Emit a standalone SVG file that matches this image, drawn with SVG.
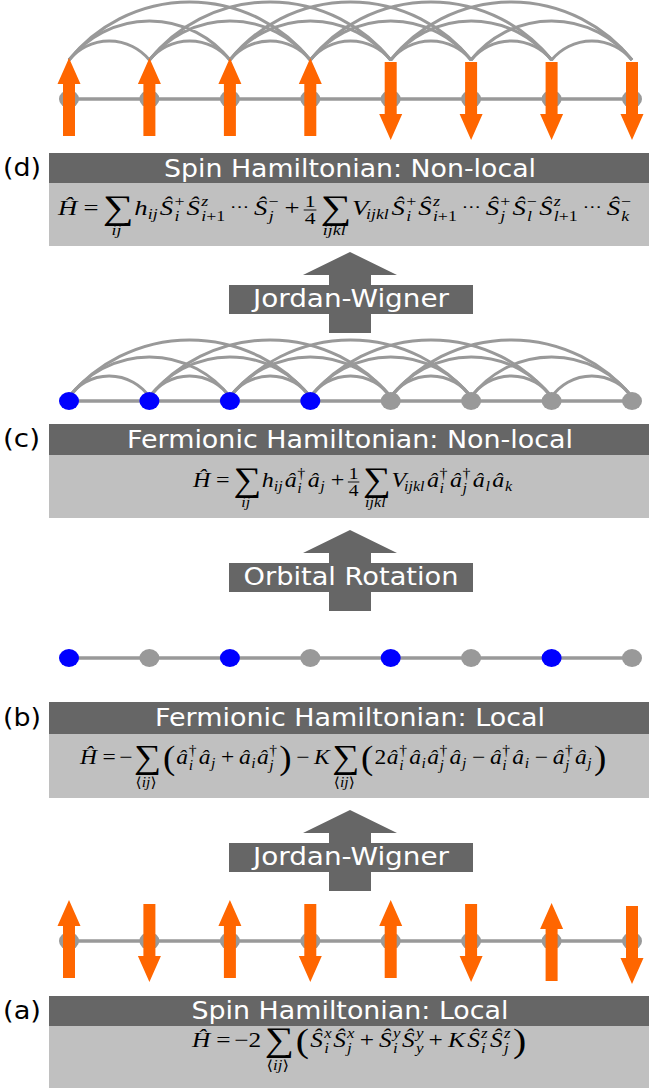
<svg xmlns="http://www.w3.org/2000/svg" xmlns:xlink="http://www.w3.org/1999/xlink" width="649" height="1089" viewBox="0 0 649 1089">
<style>
.bar{fill:#666}
.box{fill:#c0c0c0}
.title{font-family:"DejaVu Sans",sans-serif;font-size:24px;fill:#fff;text-anchor:middle}
.lab{font-family:"DejaVu Sans",sans-serif;font-size:24px;fill:#000}
.edge{stroke:#999;stroke-width:3.5;fill:none}
.arc{stroke:#999;stroke-width:3;fill:none}
.g{fill:#999}
.b{fill:#0000ff}
.spin{fill:#ff6600}
.big{fill:#666}
.m{font-family:"Liberation Serif","DejaVu Serif",serif;font-size:21px;fill:#000}
.i{font-style:italic}
.s{font-size:14px}
.L{font-size:34px}
.P{font-size:33px}
.f{font-size:17px}
.c{text-anchor:middle}
.dots{font-family:"DejaVu Sans",sans-serif;font-size:15px;fill:#000}
.fr{stroke:#000;stroke-width:0.9}
</style>
<defs>
<path id="up" d="M0,-41 L11.5,-15 L6,-15 L6,37 L-6,37 L-6,-15 L-11.5,-15 Z"/>
<path id="dn" d="M0,41 L11.5,15 L6,15 L6,-37 L-6,-37 L-6,15 L-11.5,15 Z"/>
<ellipse id="dot" cx="0" cy="0" rx="10" ry="9"/>
</defs>

<!-- connectors -->
<g id="connectors">
 <line class="edge" x1="69" y1="99" x2="632" y2="99"/>
 <g id="d-arcs">
  <path class="arc" d="M69,60 A52,52 0 0 1 149.4,60 M149.4,60 A52,52 0 0 1 229.9,60 M229.9,60 A52,52 0 0 1 310.3,60 M310.3,60 A52,52 0 0 1 390.7,60 M390.7,60 A52,52 0 0 1 471.1,60 M471.1,60 A52,52 0 0 1 551.6,60 M551.6,60 A52,52 0 0 1 632,60"/>
  <path class="arc" d="M69,60 A102.4,102.4 0 0 1 229.9,60 M149.4,60 A102.4,102.4 0 0 1 310.3,60 M229.9,60 A102.4,102.4 0 0 1 390.7,60 M310.3,60 A102.4,102.4 0 0 1 471.1,60 M390.7,60 A102.4,102.4 0 0 1 551.6,60 M471.1,60 A102.4,102.4 0 0 1 632,60"/>
  <path class="arc" d="M69,60 A154.4,154.4 0 0 1 310.3,60 M149.4,60 A154.4,154.4 0 0 1 390.7,60 M229.9,60 A154.4,154.4 0 0 1 471.1,60 M310.3,60 A154.4,154.4 0 0 1 551.6,60 M390.7,60 A154.4,154.4 0 0 1 632,60"/>
 </g>
 <line class="edge" x1="69" y1="401" x2="632" y2="401"/>
 <g id="c-arcs">
  <path class="arc" d="M69,397 A49,49 0 0 1 149.4,397 M149.4,397 A49,49 0 0 1 229.9,397 M229.9,397 A49,49 0 0 1 310.3,397 M310.3,397 A49,49 0 0 1 390.7,397 M390.7,397 A49,49 0 0 1 471.1,397 M471.1,397 A49,49 0 0 1 551.6,397 M551.6,397 A49,49 0 0 1 632,397"/>
  <path class="arc" d="M69,397 A100.8,100.8 0 0 1 229.9,397 M149.4,397 A100.8,100.8 0 0 1 310.3,397 M229.9,397 A100.8,100.8 0 0 1 390.7,397 M310.3,397 A100.8,100.8 0 0 1 471.1,397 M390.7,397 A100.8,100.8 0 0 1 551.6,397 M471.1,397 A100.8,100.8 0 0 1 632,397"/>
  <path class="arc" d="M69,397 A156,156 0 0 1 310.3,397 M149.4,397 A156,156 0 0 1 390.7,397 M229.9,397 A156,156 0 0 1 471.1,397 M310.3,397 A156,156 0 0 1 551.6,397 M390.7,397 A156,156 0 0 1 632,397"/>
 </g>
 <line class="edge" x1="69" y1="658" x2="632" y2="658"/>
 <line class="edge" x1="69" y1="941" x2="632" y2="941"/>
</g>

<!-- section d nodes -->
<g id="d-n1" transform="translate(69,99)"><use href="#dot" class="g"/><use href="#up" class="spin"/></g>
<g id="d-n2" transform="translate(149.4,99)"><use href="#dot" class="g"/><use href="#up" class="spin"/></g>
<g id="d-n3" transform="translate(229.9,99)"><use href="#dot" class="g"/><use href="#up" class="spin"/></g>
<g id="d-n4" transform="translate(310.3,99)"><use href="#dot" class="g"/><use href="#up" class="spin"/></g>
<g id="d-n5" transform="translate(390.7,99)"><use href="#dot" class="g"/><use href="#dn" class="spin"/></g>
<g id="d-n6" transform="translate(471.1,99)"><use href="#dot" class="g"/><use href="#dn" class="spin"/></g>
<g id="d-n7" transform="translate(551.6,99)"><use href="#dot" class="g"/><use href="#dn" class="spin"/></g>
<g id="d-n8" transform="translate(632,99)"><use href="#dot" class="g"/><use href="#dn" class="spin"/></g>

<!-- panel d -->
<g id="panel-d">
 <text class="lab" x="3" y="176" textLength="38" lengthAdjust="spacingAndGlyphs">(d)</text>
 <rect class="bar" x="49" y="153" width="600" height="30"/>
 <rect class="box" x="49" y="183" width="600" height="63"/>
 <text class="title" x="350" y="177" textLength="372" lengthAdjust="spacingAndGlyphs">Spin Hamiltonian: Non-local</text>
 <g transform="translate(58,215) scale(1.273,1)">
  <text class="m i" x="0">Ĥ</text><text class="m" x="20">=</text>
  <text class="m L" x="35" y="4">∑</text><text class="m s i c" x="46" y="20">ij</text>
  <text class="m i" x="60">h</text><text class="m s i" x="70.5" y="4">ij</text>
  <text class="m i" x="80">Ŝ</text><text class="m s" x="91.5" y="-9">+</text><text class="m s i" x="91.5" y="6">i</text>
  <text class="m i" x="101">Ŝ</text><text class="m s i" x="112.5" y="-9">z</text><text class="m s" x="112.5" y="6"><tspan class="i">i</tspan>+1</text>
  <text class="dots" x="135" y="-3">⋯</text>
  <text class="m i" x="154">Ŝ</text><text class="m s" x="165.5" y="-9">−</text><text class="m s i" x="165.5" y="6">j</text>
  <text class="m" x="178">+</text>
  <text class="m f c" x="198" y="-8">1</text><line class="fr" x1="193" y1="-5" x2="203" y2="-5"/><text class="m f c" x="198" y="9">4</text>
  <text class="m L" x="206" y="4">∑</text><text class="m s i c" x="217" y="20">ijkl</text>
  <text class="m i" x="231">V</text><text class="m s i" x="242" y="4">ijkl</text>
  <text class="m i" x="262">Ŝ</text><text class="m s" x="273.5" y="-9">+</text><text class="m s i" x="273.5" y="6">i</text>
  <text class="m i" x="283">Ŝ</text><text class="m s i" x="294.5" y="-9">z</text><text class="m s" x="294.5" y="6"><tspan class="i">i</tspan>+1</text>
  <text class="dots" x="317" y="-3">⋯</text>
  <text class="m i" x="336">Ŝ</text><text class="m s" x="347.5" y="-9">+</text><text class="m s i" x="347.5" y="6">j</text>
  <text class="m i" x="357">Ŝ</text><text class="m s" x="368.5" y="-9">−</text><text class="m s i" x="368.5" y="6">l</text>
  <text class="m i" x="378">Ŝ</text><text class="m s i" x="389.5" y="-9">z</text><text class="m s" x="389.5" y="6"><tspan class="i">l</tspan>+1</text>
  <text class="dots" x="412" y="-3">⋯</text>
  <text class="m i" x="431">Ŝ</text><text class="m s" x="442.5" y="-9">−</text><text class="m s i" x="442.5" y="6">k</text>
 </g>
</g>

<!-- arrow JW (top) -->
<g id="arrow-jw-top">
 <polygon class="big" points="350,252 397,275 371,275 371,333 329,333 329,275 303,275"/>
 <rect class="big" x="229" y="285" width="244" height="29"/>
 <text class="title" x="351" y="307" textLength="196" lengthAdjust="spacingAndGlyphs">Jordan-Wigner</text>
</g>

<!-- section c nodes -->
<g id="c-n1" transform="translate(69,401)"><use href="#dot" class="b"/></g>
<g id="c-n2" transform="translate(149.4,401)"><use href="#dot" class="b"/></g>
<g id="c-n3" transform="translate(229.9,401)"><use href="#dot" class="b"/></g>
<g id="c-n4" transform="translate(310.3,401)"><use href="#dot" class="b"/></g>
<g id="c-n5" transform="translate(390.7,401)"><use href="#dot" class="g"/></g>
<g id="c-n6" transform="translate(471.1,401)"><use href="#dot" class="g"/></g>
<g id="c-n7" transform="translate(551.6,401)"><use href="#dot" class="g"/></g>
<g id="c-n8" transform="translate(632,401)"><use href="#dot" class="g"/></g>

<!-- panel c -->
<g id="panel-c">
 <text class="lab" x="3" y="447" textLength="37" lengthAdjust="spacingAndGlyphs">(c)</text>
 <rect class="bar" x="49" y="424" width="600" height="31"/>
 <rect class="box" x="49" y="455" width="600" height="63"/>
 <text class="title" x="350" y="448" textLength="446" lengthAdjust="spacingAndGlyphs">Fermionic Hamiltonian: Non-local</text>
 <g transform="translate(193,487) scale(1.147,1)">
  <text class="m i" x="0">Ĥ</text><text class="m" x="20">=</text>
  <text class="m L" x="35" y="4">∑</text><text class="m s i c" x="46" y="20">ij</text>
  <text class="m i" x="60">h</text><text class="m s i" x="70.5" y="4">ij</text>
  <text class="m i" x="80">â</text><text class="m s" x="91" y="-9">†</text><text class="m s i" x="91" y="6">i</text>
  <text class="m i" x="100">â</text><text class="m s i" x="111" y="4">j</text>
  <text class="m" x="120">+</text>
  <text class="m f c" x="140" y="-8">1</text><line class="fr" x1="135" y1="-5" x2="145" y2="-5"/><text class="m f c" x="140" y="9">4</text>
  <text class="m L" x="148" y="4">∑</text><text class="m s i c" x="159" y="20">ijkl</text>
  <text class="m i" x="173">V</text><text class="m s i" x="184" y="4">ijkl</text>
  <text class="m i" x="204">â</text><text class="m s" x="215" y="-9">†</text><text class="m s i" x="215" y="6">i</text>
  <text class="m i" x="224">â</text><text class="m s" x="235" y="-9">†</text><text class="m s i" x="235" y="6">j</text>
  <text class="m i" x="244">â</text><text class="m s i" x="255" y="4">l</text>
  <text class="m i" x="261">â</text><text class="m s i" x="272" y="4">k</text>
 </g>
</g>

<!-- arrow orbital rotation -->
<g id="arrow-orbital">
 <polygon class="big" points="350,530 397,553 371,553 371,611 329,611 329,553 303,553"/>
 <rect class="big" x="229" y="563" width="244" height="29"/>
 <text class="title" x="351" y="585" textLength="215" lengthAdjust="spacingAndGlyphs">Orbital Rotation</text>
</g>

<!-- section b nodes -->
<g id="b-n1" transform="translate(69,658)"><use href="#dot" class="b"/></g>
<g id="b-n2" transform="translate(149.4,658)"><use href="#dot" class="g"/></g>
<g id="b-n3" transform="translate(229.9,658)"><use href="#dot" class="b"/></g>
<g id="b-n4" transform="translate(310.3,658)"><use href="#dot" class="g"/></g>
<g id="b-n5" transform="translate(390.7,658)"><use href="#dot" class="b"/></g>
<g id="b-n6" transform="translate(471.1,658)"><use href="#dot" class="g"/></g>
<g id="b-n7" transform="translate(551.6,658)"><use href="#dot" class="b"/></g>
<g id="b-n8" transform="translate(632,658)"><use href="#dot" class="g"/></g>

<!-- panel b -->
<g id="panel-b">
 <text class="lab" x="3" y="726" textLength="38" lengthAdjust="spacingAndGlyphs">(b)</text>
 <rect class="bar" x="49" y="702" width="600" height="32"/>
 <rect class="box" x="49" y="734" width="600" height="64"/>
 <text class="title" x="350" y="726" textLength="390" lengthAdjust="spacingAndGlyphs">Fermionic Hamiltonian: Local</text>
 <g transform="translate(80,764) scale(1.12,1)">
  <text class="m i" x="0">Ĥ</text><text class="m" x="20">=</text><text class="m" x="35">−</text>
  <text class="m L" x="48" y="4">∑</text><text class="m s c" x="59" y="23">⟨<tspan class="i">ij</tspan>⟩</text>
  <text class="m P" x="74" y="5">(</text>
  <text class="m i" x="86">â</text><text class="m s" x="97" y="-9">†</text><text class="m s i" x="97" y="6">i</text>
  <text class="m i" x="106">â</text><text class="m s i" x="117" y="4">j</text>
  <text class="m" x="126">+</text>
  <text class="m i" x="142">â</text><text class="m s i" x="153" y="4">i</text>
  <text class="m i" x="158">â</text><text class="m s" x="169" y="-9">†</text><text class="m s i" x="169" y="6">j</text>
  <text class="m P" x="178" y="5">)</text>
  <text class="m" x="193">−</text>
  <text class="m i" x="209">K</text>
  <text class="m L" x="225" y="4">∑</text><text class="m s c" x="236" y="23">⟨<tspan class="i">ij</tspan>⟩</text>
  <text class="m P" x="251" y="5">(</text>
  <text class="m" x="263">2</text>
  <text class="m i" x="274">â</text><text class="m s" x="285" y="-9">†</text><text class="m s i" x="285" y="6">i</text>
  <text class="m i" x="294">â</text><text class="m s i" x="305" y="4">i</text>
  <text class="m i" x="310">â</text><text class="m s" x="321" y="-9">†</text><text class="m s i" x="321" y="6">j</text>
  <text class="m i" x="330">â</text><text class="m s i" x="341" y="4">j</text>
  <text class="m" x="350">−</text>
  <text class="m i" x="366">â</text><text class="m s" x="377" y="-9">†</text><text class="m s i" x="377" y="6">i</text>
  <text class="m i" x="386">â</text><text class="m s i" x="397" y="4">i</text>
  <text class="m" x="406">−</text>
  <text class="m i" x="422">â</text><text class="m s" x="433" y="-9">†</text><text class="m s i" x="433" y="6">j</text>
  <text class="m i" x="442">â</text><text class="m s i" x="453" y="4">j</text>
  <text class="m P" x="459" y="5">)</text>
 </g>
</g>

<!-- arrow JW (bottom) -->
<g id="arrow-jw-bottom">
 <polygon class="big" points="350,810 397,833 371,833 371,891 329,891 329,833 303,833"/>
 <rect class="big" x="229" y="843" width="244" height="29"/>
 <text class="title" x="351" y="865" textLength="196" lengthAdjust="spacingAndGlyphs">Jordan-Wigner</text>
</g>

<!-- section a nodes -->
<g id="a-n1" transform="translate(69,941)"><use href="#dot" class="g"/><use href="#up" class="spin"/></g>
<g id="a-n2" transform="translate(149.4,941)"><use href="#dot" class="g"/><use href="#dn" class="spin"/></g>
<g id="a-n3" transform="translate(229.9,941)"><use href="#dot" class="g"/><use href="#up" class="spin"/></g>
<g id="a-n4" transform="translate(310.3,941)"><use href="#dot" class="g"/><use href="#dn" class="spin"/></g>
<g id="a-n5" transform="translate(390.7,941)"><use href="#dot" class="g"/><use href="#up" class="spin"/></g>
<g id="a-n6" transform="translate(471.1,941)"><use href="#dot" class="g"/><use href="#dn" class="spin"/></g>
<g id="a-n7" transform="translate(551.6,941)"><use href="#dot" class="g"/><use href="#up" class="spin" transform="translate(0,3)"/></g>
<g id="a-n8" transform="translate(632,941)"><use href="#dot" class="g"/><use href="#dn" class="spin" transform="translate(0,2)"/></g>

<!-- panel a -->
<g id="panel-a">
 <text class="lab" x="3" y="1019" textLength="38" lengthAdjust="spacingAndGlyphs">(a)</text>
 <rect class="bar" x="49" y="996" width="600" height="30"/>
 <rect class="box" x="49" y="1026" width="600" height="62"/>
 <text class="title" x="350" y="1019" textLength="317" lengthAdjust="spacingAndGlyphs">Spin Hamiltonian: Local</text>
 <g transform="translate(192,1047) scale(1.207,1)">
  <text class="m i" x="0">Ĥ</text><text class="m" x="20">=</text><text class="m" x="35">−2</text>
  <text class="m L" x="60" y="4">∑</text><text class="m s c" x="71" y="23">⟨<tspan class="i">ij</tspan>⟩</text>
  <text class="m P" x="86" y="5">(</text>
  <text class="m i" x="98">Ŝ</text><text class="m s i" x="109.5" y="-9">x</text><text class="m s i" x="109.5" y="6">i</text>
  <text class="m i" x="117">Ŝ</text><text class="m s i" x="128.5" y="-9">x</text><text class="m s i" x="128.5" y="6">j</text>
  <text class="m" x="139">+</text>
  <text class="m i" x="155">Ŝ</text><text class="m s i" x="166.5" y="-9">y</text><text class="m s i" x="166.5" y="6">i</text>
  <text class="m i" x="174">Ŝ</text><text class="m s i" x="185.5" y="-9">y</text><text class="m s i" x="185.5" y="6">y</text>
  <text class="m" x="196">+</text>
  <text class="m i" x="212">K</text>
  <text class="m i" x="228">Ŝ</text><text class="m s i" x="239.5" y="-9">z</text><text class="m s i" x="239.5" y="6">i</text>
  <text class="m i" x="247">Ŝ</text><text class="m s i" x="258.5" y="-9">z</text><text class="m s i" x="258.5" y="6">j</text>
  <text class="m P" x="266" y="5">)</text>
 </g>
</g>
</svg>
